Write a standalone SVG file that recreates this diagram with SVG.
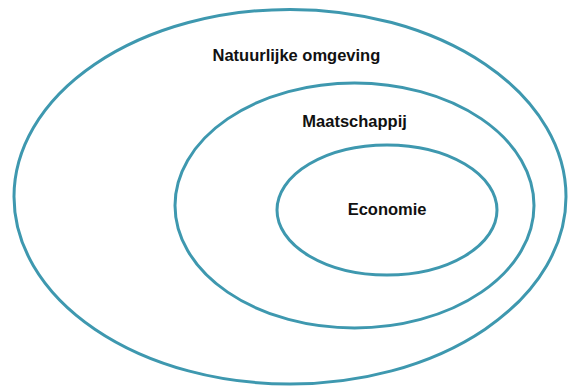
<svg xmlns="http://www.w3.org/2000/svg" width="569" height="387" viewBox="0 0 569 387">
<style>
.ring{fill:none;stroke:#3E98AF;stroke-width:3}
.lbl{font-family:"Liberation Sans",Arial,sans-serif;font-weight:bold;font-size:16.5px;fill:#111}
</style>
<rect width="569" height="387" fill="#fff"/>
<g id="natuurlijke-omgeving">
<ellipse class="ring" cx="290" cy="196.7" rx="276" ry="187.3"/>
<text class="lbl" x="212.5" y="60.7">Natuurlijke omgeving</text>
</g>
<g id="maatschappij">
<ellipse class="ring" cx="354.5" cy="205.5" rx="179.5" ry="122.5"/>
<text class="lbl" x="302.3" y="126.7">Maatschappij</text>
</g>
<g id="economie">
<ellipse class="ring" cx="387" cy="210" rx="110" ry="65"/>
<text class="lbl" x="347.7" y="215">Economie</text>
</g>
<g id="connectors"/>
</svg>
